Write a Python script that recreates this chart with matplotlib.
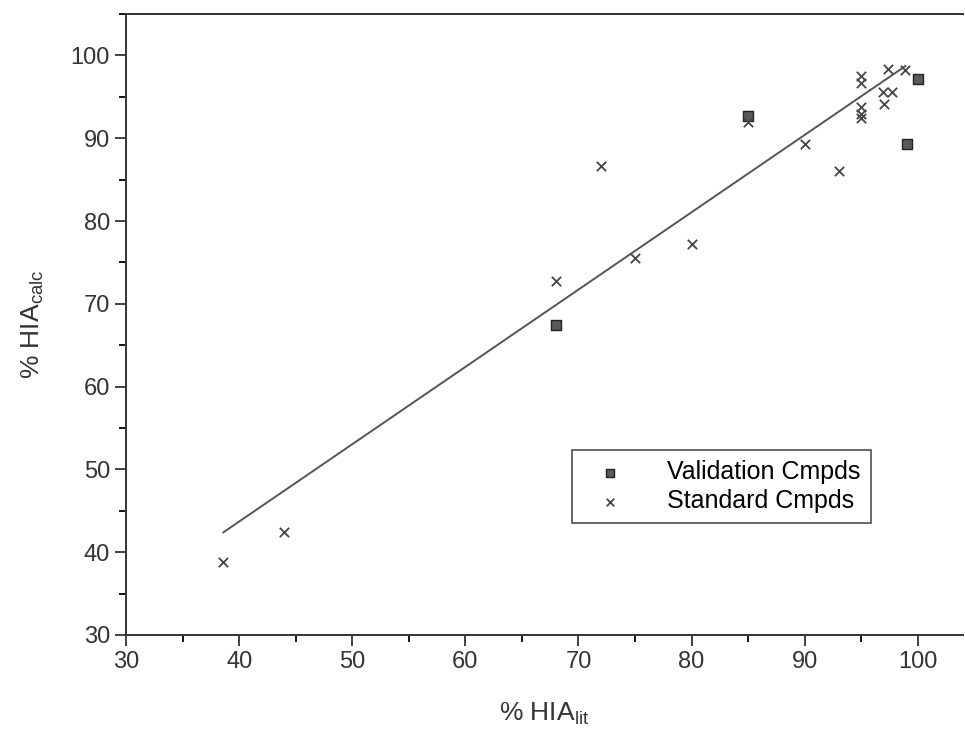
import matplotlib
matplotlib.use("Agg")
import matplotlib.pyplot as plt
import numpy as np
from matplotlib.ticker import MultipleLocator

plt.rcParams["font.family"] = ["Liberation Sans", "DejaVu Sans"]

# standard compounds (x marks)
std_lit = [38.6, 44.0, 68.0, 72.0, 75.0, 80.0, 85.0, 90.0, 93.0,
           95.0, 95.0, 95.0, 95.0, 95.0, 97.0, 96.9, 97.7, 97.4, 98.9]
std_calc = [38.8, 42.4, 72.8, 86.6, 75.5, 77.2, 92.0, 89.3, 86.1,
            97.5, 96.7, 93.8, 92.9, 92.5, 94.1, 95.6, 95.6, 98.3, 98.2]

# validation compounds (squares)
val_lit = [68.0, 85.0, 100.0, 99.0]
val_calc = [67.4, 92.7, 97.2, 89.3]

# regression line
fit_slope = 0.934
fit_intercept = 6.34

fig = plt.figure(figsize=(9.65, 7.38), dpi=100)
ax = fig.add_axes([0.1306, 0.1396, 0.8674, 0.8414])

xs = np.array([min(std_lit), max(std_lit)])
ax.plot(xs, fit_slope * xs + fit_intercept, color="#555555", lw=1.4)

ax.scatter(val_lit, val_calc, marker="s", s=42, facecolor="#5a5a5a",
           edgecolor="#222222", linewidths=1.0, label="Validation Cmpds", zorder=3)
ax.scatter(std_lit, std_calc, marker="x", s=45, color="#444444",
           linewidths=1.3, label="Standard Cmpds", zorder=3)

ax.set_xlim(30, 104)
ax.set_ylim(30, 105)
ax.xaxis.set_major_locator(MultipleLocator(10))
ax.xaxis.set_minor_locator(MultipleLocator(5))
ax.yaxis.set_major_locator(MultipleLocator(10))
ax.yaxis.set_minor_locator(MultipleLocator(5))
ax.set_xticks(range(30, 101, 10))

ax.tick_params(which="major", direction="out", length=8, width=1.3,
               labelsize=17, colors="#333333")
ax.tick_params(which="minor", direction="out", length=5, width=1.3)
for side in ["left", "bottom", "top"]:
    ax.spines[side].set_linewidth(1.4)
    ax.spines[side].set_color("#333333")
ax.spines["right"].set_visible(False)

ax.set_xlabel("% HIA$_\\mathregular{lit}$", fontsize=19, color="#333333", labelpad=20)
ax.set_ylabel("% HIA$_\\mathregular{calc}$", fontsize=19, color="#333333", labelpad=18)

leg = ax.legend(loc="lower left", bbox_to_anchor=(0.533, 0.18), fontsize=18,
                frameon=True, fancybox=False, edgecolor="#222222",
                handletextpad=1.2, handlelength=2.2, borderpad=0.4,
                labelspacing=0.2, markerscale=0.8, borderaxespad=0)
leg.get_frame().set_linewidth(1.2)

fig.savefig("out.png", dpi=100)
